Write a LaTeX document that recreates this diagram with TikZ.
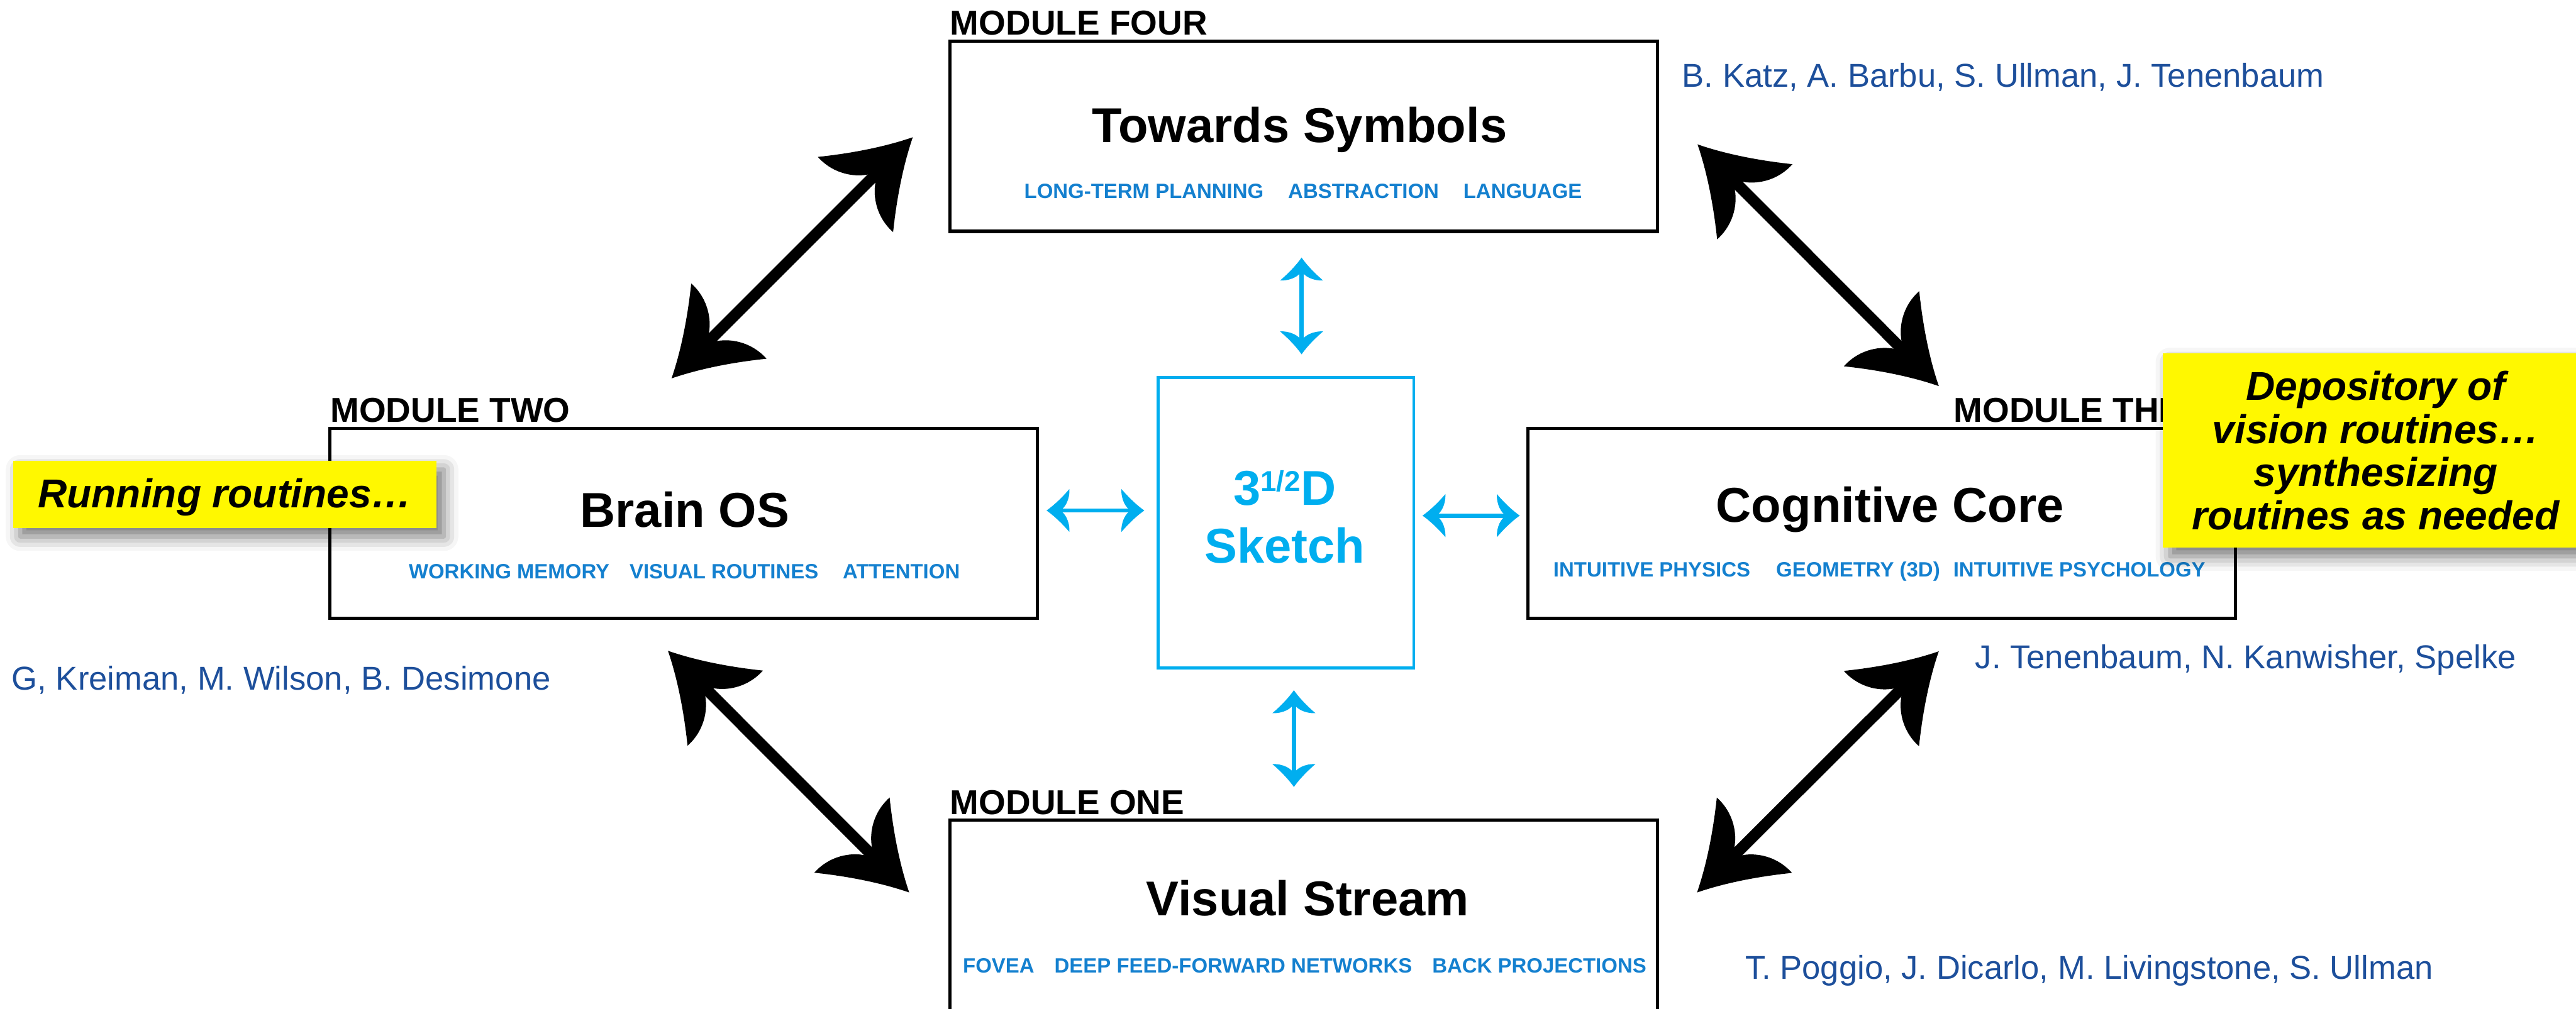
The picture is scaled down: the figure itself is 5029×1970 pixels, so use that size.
\documentclass[tikz,border=0pt]{standalone}
\usepackage{fontspec}
\setmainfont{Liberation Sans}
\usetikzlibrary{arrows.meta,shadows.blur}

\definecolor{sketchblue}{HTML}{00AEEF}
\definecolor{tagblue}{HTML}{1480CF}
\definecolor{namesblue}{HTML}{1D4F9B}
\definecolor{noteyellow}{HTML}{FFF800}

% swept-back arrow head, both for the thick black and the thin blue arrows
\pgfdeclarearrow{
  name = Barb,
  parameters = {\the\pgfarrowlength,\the\pgfarrowwidth},
  setup code = {
    \pgfarrowssettipend{0pt}
    \pgfarrowssetlineend{-.5\pgfarrowlength}
    \pgfarrowssetbackend{-\pgfarrowlength}
    \pgfarrowshullpoint{0pt}{0pt}
    \pgfarrowsupperhullpoint{-\pgfarrowlength}{.5\pgfarrowwidth}
    \pgfarrowssavethe\pgfarrowlength
    \pgfarrowssavethe\pgfarrowwidth
  },
  drawing code = {
    \pgfpathmoveto{\pgfpointorigin}
    \pgfpathcurveto{\pgfpoint{-.35\pgfarrowlength}{.13\pgfarrowwidth}}
                   {\pgfpoint{-.7\pgfarrowlength}{.315\pgfarrowwidth}}
                   {\pgfpoint{-\pgfarrowlength}{.5\pgfarrowwidth}}
    \pgfpathcurveto{\pgfpoint{-1.02\pgfarrowlength}{.25\pgfarrowwidth}}
                   {\pgfpoint{-.8\pgfarrowlength}{.05\pgfarrowwidth}}
                   {\pgfpoint{-.58\pgfarrowlength}{0pt}}
    \pgfpathcurveto{\pgfpoint{-.8\pgfarrowlength}{-.05\pgfarrowwidth}}
                   {\pgfpoint{-1.02\pgfarrowlength}{-.25\pgfarrowwidth}}
                   {\pgfpoint{-\pgfarrowlength}{-.5\pgfarrowwidth}}
    \pgfpathcurveto{\pgfpoint{-.7\pgfarrowlength}{-.315\pgfarrowwidth}}
                   {\pgfpoint{-.35\pgfarrowlength}{-.13\pgfarrowwidth}}
                   {\pgfpointorigin}
    \pgfpathclose
    \pgfusepathqfill
  },
  defaults = {length = .99cm, width = 1.3cm}
}

\newcommand{\tagsgap}[1]{\hspace{#1pt}}

\tikzset{
  modbox/.style={draw, line width=1.1pt, minimum width=8.64cm, minimum height=2.325cm, inner sep=0pt},
  modlabel/.style={anchor=base west, inner sep=0pt, font=\fontsize{12}{12}\selectfont\bfseries},
  modtitle/.style={anchor=base, inner sep=0pt, font=\fontsize{17}{17}\selectfont\bfseries},
  modtags/.style={anchor=base, inner sep=0pt, text=tagblue, font=\fontsize{7.2}{7.2}\selectfont\bfseries},
  refnames/.style={anchor=base west, inner sep=0pt, text=namesblue, font=\fontsize{11.5}{11.5}\selectfont},
  yellownote/.style={fill=noteyellow, inner sep=0pt, align=center,
    font=\fontsize{14}{15}\selectfont\bfseries\itshape,
    blur shadow={shadow xshift=2.5pt, shadow yshift=-3pt, shadow blur radius=5pt, shadow opacity=55}},
  bigarrow/.style={Barb-Barb, line width=3.9pt, black},
  smallarrow/.style={arrows={Barb[length=.28cm, width=.525cm]-Barb[length=.28cm, width=.525cm]}, line width=1.5pt, sketchblue}
}

\begin{document}
\begin{tikzpicture}[x=0.00625cm, y=-0.00625cm]
\useasboundingbox (0,0) rectangle (5029,1970);

% the four modules
\node[modbox] (sym) at (2545.5,266) {};
\node[modbox] (brain) at (1334.5,1022) {};
\node[modbox] (core) at (3673,1022) {};
\node[modbox] (vis) at (2545.5,1788) {};

\node[modlabel] (fourlabel) at (1854,68) {MODULE FOUR};
\node[modlabel] (twolabel) at (644,825) {MODULE TWO};
\node[modlabel] (threelabel) at (3813,825) {MODULE THREE};
\node[modlabel] (onelabel) at (1854,1591) {MODULE ONE};

\node[modtitle] (symtitle) at (2537,278) {Towards Symbols};
\node[modtags] (symtags) at (2544,387) {LONG-TERM PLANNING\tagsgap{8.5}ABSTRACTION\tagsgap{8.5}LANGUAGE};
\node[modtitle] (braintitle) at (1337,1030) {Brain OS};
\node[modtags] (braintags) at (1336,1130) {WORKING MEMORY\tagsgap{7}VISUAL ROUTINES\tagsgap{8.5}ATTENTION};
\node[modtitle] (coretitle) at (3690,1020) {Cognitive Core};
\node[modtags] (coretags) at (3669,1127) {INTUITIVE PHYSICS\tagsgap{9}GEOMETRY (3D)\tagsgap{4.6}INTUITIVE PSYCHOLOGY};
\node[modtitle] (vistitle) at (2553,1788) {Visual Stream};
\node[modtags] (vistags) at (2547,1900) {FOVEA\tagsgap{7}DEEP FEED-FORWARD NETWORKS\tagsgap{7}BACK PROJECTIONS};

% sketch in the middle
\node[draw=sketchblue, line width=1pt, minimum width=3.12cm, minimum height=3.55cm, inner sep=0pt] (sketch) at (2510.5,1021) {};
\node[modtitle, text=sketchblue] (sketchA) at (2508,987) {3\raisebox{5pt}{\fontsize{10}{10}\selectfont 1/2}D};
\node[modtitle, text=sketchblue] (sketchB) at (2508,1099) {Sketch};

% people
\node[refnames] (symnames) at (3283,170) {B. Katz, A. Barbu, S. Ullman, J. Tenenbaum};
\node[refnames] (brainnames) at (22,1347) {G, Kreiman, M. Wilson, B. Desimone};
\node[refnames] (corenames) at (3855,1306) {J. Tenenbaum, N. Kanwisher, Spelke};
\node[refnames] (visnames) at (3406,1912) {T. Poggio, J. Dicarlo, M. Livingstone, S. Ullman};

% arrow ends
\coordinate (tlA) at (1311,739);  \coordinate (tlB) at (1782,268);
\coordinate (trA) at (3314,282);  \coordinate (trB) at (3785,754);
\coordinate (blA) at (1304,1271); \coordinate (blB) at (1775,1743);
\coordinate (brA) at (3313,1743); \coordinate (brB) at (3785,1272);
\coordinate (upA) at (2541,503);  \coordinate (upB) at (2541,692);
\coordinate (leA) at (2043,997);  \coordinate (leB) at (2234,997);
\coordinate (riA) at (2777,1007); \coordinate (riB) at (2967,1007);
\coordinate (doA) at (2526,1348); \coordinate (doB) at (2526,1537);

\draw[bigarrow] (tlA) -- (tlB);
\draw[bigarrow] (trA) -- (trB);
\draw[bigarrow] (blA) -- (blB);
\draw[bigarrow] (brA) -- (brB);

\draw[smallarrow] (upA) -- (upB);
\draw[smallarrow] (leA) -- (leB);
\draw[smallarrow] (riA) -- (riB);
\draw[smallarrow] (doA) -- (doB);

% notes
\node[yellownote, minimum width=5.175cm, minimum height=.82cm, text height=10.2pt, text depth=.8pt] (runnote) at (439,965.5) {Running routines…};
\node[yellownote, minimum width=5.2cm, minimum height=2.375cm] (depotnote) at (4638,880) {Depository of\\vision routines…\\synthesizing\\routines as needed};
\end{tikzpicture}
\end{document}
